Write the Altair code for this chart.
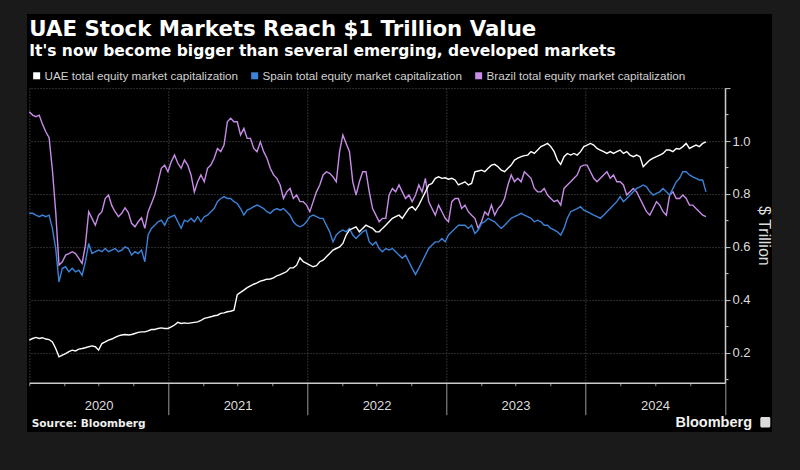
import altair as alt
import pandas as pd

uae_values = [
    0.248, 0.254, 0.258, 0.254, 0.257, 0.252, 0.250, 0.241, 0.216, 0.185,
    0.191, 0.197, 0.204, 0.210, 0.207, 0.214, 0.216, 0.219, 0.223, 0.226,
    0.223, 0.210, 0.235, 0.241, 0.248, 0.252, 0.258, 0.264, 0.267, 0.269,
    0.267, 0.269, 0.273, 0.277, 0.279, 0.279, 0.283, 0.288, 0.288, 0.292,
    0.294, 0.292,
    0.292, 0.298, 0.305, 0.315, 0.311, 0.313, 0.311, 0.313, 0.315, 0.317,
    0.322, 0.330, 0.333, 0.336, 0.340, 0.342, 0.349, 0.351, 0.355, 0.357,
    0.361, 0.420, 0.428, 0.437, 0.446, 0.453, 0.459, 0.464, 0.471, 0.474,
    0.478, 0.479, 0.483, 0.491, 0.495, 0.501, 0.507, 0.521, 0.521, 0.531,
    0.559, 0.544,
    0.538, 0.531, 0.525, 0.529, 0.544, 0.550, 0.563, 0.575, 0.588, 0.594,
    0.600, 0.613, 0.645, 0.664, 0.670, 0.676, 0.657, 0.670, 0.682, 0.676,
    0.670, 0.657, 0.657, 0.670, 0.682, 0.695, 0.708, 0.714, 0.720, 0.708,
    0.727, 0.745, 0.752, 0.739, 0.758, 0.783, 0.808, 0.834, 0.840, 0.859,
    0.865, 0.859,
    0.861, 0.856, 0.859, 0.853, 0.834, 0.840, 0.846, 0.834, 0.840, 0.884,
    0.887, 0.890, 0.884, 0.897, 0.909, 0.912, 0.903, 0.890, 0.884, 0.897,
    0.909, 0.928, 0.935, 0.941, 0.945, 0.947, 0.960, 0.953, 0.966, 0.979,
    0.985, 0.991, 0.979, 0.960, 0.928, 0.912, 0.941, 0.953, 0.947, 0.953,
    0.947, 0.960,
    0.979, 0.985, 0.991, 0.985, 0.972, 0.966, 0.960, 0.953, 0.960, 0.953,
    0.960, 0.966, 0.953, 0.960, 0.947, 0.941, 0.947, 0.941, 0.903, 0.916,
    0.928, 0.935, 0.941, 0.947, 0.953, 0.966, 0.966, 0.960, 0.972, 0.970,
    0.979, 0.991, 0.972, 0.979, 0.985, 0.979, 0.991, 0.997,
]

spain_values = [
    0.727, 0.727, 0.720, 0.714, 0.720, 0.714, 0.720, 0.670, 0.594, 0.468,
    0.519, 0.525, 0.506, 0.519, 0.506, 0.512, 0.493, 0.544, 0.613, 0.575,
    0.582, 0.588, 0.582, 0.594, 0.582, 0.588, 0.594, 0.582, 0.588, 0.600,
    0.594, 0.569, 0.582, 0.575, 0.588, 0.544, 0.645, 0.670, 0.682, 0.695,
    0.701, 0.682,
    0.708, 0.714, 0.720, 0.695, 0.670, 0.701, 0.695, 0.708, 0.695, 0.714,
    0.695, 0.714, 0.720, 0.733, 0.745, 0.771, 0.783, 0.790, 0.783, 0.783,
    0.771, 0.764, 0.745, 0.720, 0.739, 0.745, 0.752, 0.758, 0.752, 0.745,
    0.733, 0.727, 0.739, 0.745, 0.739, 0.745, 0.733, 0.720, 0.695, 0.682,
    0.676, 0.682,
    0.695, 0.714, 0.720, 0.714, 0.708, 0.708, 0.682, 0.657, 0.619, 0.645,
    0.657, 0.664, 0.657, 0.670, 0.645, 0.632, 0.645, 0.657, 0.664, 0.619,
    0.607, 0.619, 0.594, 0.582, 0.594, 0.588, 0.594, 0.582, 0.569, 0.557,
    0.569, 0.544, 0.519, 0.496, 0.519, 0.544, 0.569, 0.594, 0.607, 0.619,
    0.619, 0.632,
    0.619, 0.645, 0.657, 0.670, 0.682, 0.682, 0.682, 0.670, 0.682, 0.651,
    0.664, 0.689, 0.695, 0.708, 0.701, 0.695, 0.682, 0.670, 0.682, 0.695,
    0.708, 0.714, 0.720, 0.727, 0.720, 0.714, 0.708, 0.695, 0.701, 0.695,
    0.682, 0.682, 0.670, 0.664, 0.657, 0.645, 0.670, 0.708, 0.733, 0.739,
    0.745, 0.752,
    0.739, 0.733, 0.727, 0.720, 0.714, 0.708, 0.720, 0.733, 0.745, 0.758,
    0.771, 0.790, 0.771, 0.783, 0.796, 0.808, 0.821, 0.827, 0.834, 0.827,
    0.808, 0.796, 0.802, 0.808, 0.821, 0.808, 0.796, 0.821, 0.846, 0.859,
    0.884, 0.884, 0.872, 0.865, 0.859, 0.853, 0.853, 0.808,
]

brazil_values = [
    1.111, 1.098, 1.092, 1.098, 1.063, 1.035, 1.013, 0.890, 0.733, 0.531,
    0.544, 0.569, 0.575, 0.582, 0.575, 0.557, 0.538, 0.607, 0.733, 0.708,
    0.682, 0.720, 0.733, 0.783, 0.796, 0.756, 0.733, 0.714, 0.727, 0.748,
    0.730, 0.689, 0.676, 0.695, 0.710, 0.670, 0.733, 0.764, 0.796, 0.846,
    0.897, 0.909,
    0.884, 0.922, 0.947, 0.916, 0.897, 0.928, 0.909, 0.872, 0.808, 0.846,
    0.872, 0.846, 0.897, 0.909, 0.935, 0.972, 0.960, 0.985, 1.073, 1.086,
    1.073, 1.073, 1.023, 1.048, 1.010, 1.010, 0.972, 0.960, 0.997, 0.960,
    0.935, 0.897, 0.872, 0.859, 0.834, 0.783, 0.808, 0.821, 0.783, 0.796,
    0.771, 0.771,
    0.758, 0.733, 0.771, 0.808, 0.834, 0.872, 0.884, 0.878, 0.865, 0.846,
    0.960, 1.023, 0.991, 0.960, 0.846, 0.796, 0.846, 0.884, 0.884, 0.808,
    0.745, 0.720, 0.695, 0.708, 0.708, 0.796, 0.821, 0.808, 0.834, 0.808,
    0.783, 0.796, 0.771, 0.796, 0.834, 0.808, 0.859, 0.771, 0.745, 0.720,
    0.758, 0.733,
    0.708, 0.695, 0.771, 0.783, 0.783, 0.745, 0.758, 0.733, 0.720, 0.708,
    0.670, 0.695, 0.733, 0.720, 0.758, 0.720, 0.745, 0.758, 0.783, 0.834,
    0.872, 0.846, 0.859, 0.846, 0.884, 0.872, 0.859, 0.821, 0.808, 0.808,
    0.821, 0.796, 0.783, 0.771, 0.777, 0.758, 0.821, 0.834, 0.846, 0.859,
    0.872, 0.903,
    0.909, 0.909, 0.884, 0.859, 0.846, 0.859, 0.872, 0.884, 0.859, 0.872,
    0.846, 0.846, 0.834, 0.796, 0.808, 0.821, 0.808, 0.783, 0.758, 0.733,
    0.720, 0.745, 0.771, 0.758, 0.733, 0.720, 0.796, 0.808, 0.783, 0.783,
    0.796, 0.783, 0.758, 0.758, 0.745, 0.733, 0.720, 0.714,
]

series_labels = [
    "UAE total equity market capitalization",
    "Spain total equity market capitalization",
    "Brazil total equity market capitalization",
]
series_colors = ["#ffffff", "#3b82d9", "#c78ce8"]

title_text = "UAE Stock Markets Reach $1 Trillion Value"
subtitle_text = "It's now become bigger than several emerging, developed markets"
source_text = "Source:  Bloomberg"
brand_text = "Bloomberg"

first_date = "2020-01-01"
last_date = "2024-11-12"

# ---- table ----
n = len(uae_values)
dates = list(pd.date_range(first_date, last_date, periods=n).strftime("%Y-%m-%dT%H:%M:%SZ"))
parts = []
for label, vals in [(series_labels[2], brazil_values),
                    (series_labels[1], spain_values),
                    (series_labels[0], uae_values)]:
    parts.append(pd.DataFrame({"date": dates, "value": vals, "series": label}))
df = pd.concat(parts, ignore_index=True)

quarter_starts = pd.date_range("2020-01-01", "2025-01-01", freq="QS")
x_ticks = [int(ts.value // 1_000_000) for ts in quarter_starts]
x_domain = [x_ticks[0], x_ticks[-1]]
y_ticks = [round(0.1 * i, 1) for i in range(1, 13)]

W, H = 695.7, 294.6
GRID = "#5c5c5c"
TXT = "#dddddd"
FRAME = "#1a1a1a"

x_axis = alt.Axis(
    values=x_ticks, orient="bottom", title=None,
    domainColor="#cccccc", domainWidth=1.5,
    tickColor="#9a9a9a", tickWidth=1,
    tickSize={"condition": {"test": "utcmonth(datum.value) == 0 && utcyear(datum.value) > 2020", "value": 32}, "value": 3},
    grid=True, gridColor=GRID, gridDash=[1, 2], gridWidth=1,
    gridOpacity={"condition": {"test": "utcmonth(datum.value) == 0", "value": 1}, "value": 0},
    labelExpr="utcmonth(datum.value) == 6 ? utcFormat(datum.value, '%Y') : ''",
    labelFont="Liberation Sans", labelFontSize=13, labelColor=TXT,
    labelPadding=14, labelOverlap=False, labelFlush=False, labelBound=False,
)

y_axis = alt.Axis(
    values=y_ticks, orient="right",
    domainColor="#cccccc", domainWidth=1.5,
    tickColor="#cccccc", tickWidth=1,
    tickSize={"condition": {"test": "round(datum.value * 10) % 2 == 1", "value": 3}, "value": 5},
    grid=True, gridColor=GRID, gridDash=[1, 2], gridWidth=1,
    gridOpacity={"condition": {"test": "round(datum.value * 10) % 2 == 1", "value": 0}, "value": 1},
    labelExpr="(round(datum.value * 10) % 2 == 0 && datum.value < 1.15) ? format(datum.value, '.1f') : ''",
    labelFont="Liberation Sans", labelFontSize=13, labelColor=TXT, labelPadding=2,
    labelOverlap=False, labelFlush=False,
    title="$ Trillion", titleFont="Liberation Sans", titleFontSize=16, titleFontWeight="normal",
    titleColor=TXT, titleAngle=90, titlePadding=5,
)

legend = alt.Legend(
    orient="none", legendX=1.5, legendY=-18.5, direction="horizontal", title=None,
    symbolType="square", symbolSize=9, symbolStrokeWidth=4,
    labelFont="Liberation Sans", labelFontSize=11.7, labelColor="#d0d0d0",
    labelOffset=2, columnPadding=6, padding=0, labelLimit=400,
)

lines = alt.Chart(df).mark_line(strokeWidth=1.4).encode(
    x=alt.X("date:T", scale=alt.Scale(type="utc", domain=x_domain), axis=x_axis),
    y=alt.Y("value:Q", scale=alt.Scale(domain=[0.087, 1.2], nice=False, zero=False), axis=y_axis),
    color=alt.Color("series:N", scale=alt.Scale(domain=series_labels, range=series_colors), legend=legend),
)

one = pd.DataFrame({"k": [0]})

def frame_rect(x1, x2, y1, y2):
    return alt.Chart(one).mark_rect(color=FRAME).encode(
        x=alt.value(x1), x2=alt.value(x2), y=alt.value(y1), y2=alt.value(y2))

frames = [
    frame_rect(-29.3, 770.7, -88.1, -74.1),
    frame_rect(-29.3, 770.7, 343.9, 381.9),
    frame_rect(-29.3, -2.3, -88.1, 381.9),
    frame_rect(742.7, 770.7, -88.1, 381.9),
]

title = alt.Chart(one).mark_text(
    text=title_text, align="left", baseline="alphabetic",
    font="DejaVu Sans", fontWeight="bold", fontSize=21.3, color="#ffffff",
).encode(x=alt.value(0), y=alt.value(-52.0))

subtitle = alt.Chart(one).mark_text(
    text=subtitle_text, align="left", baseline="alphabetic",
    font="DejaVu Sans", fontWeight="bold", fontSize=15.5, color="#ffffff",
).encode(x=alt.value(0), y=alt.value(-32.3))

source = alt.Chart(one).mark_text(
    text=source_text, align="left", baseline="middle",
    font="DejaVu Sans", fontWeight="bold", fontSize=10.6, color="#eeeeee",
).encode(x=alt.value(2.4), y=alt.value(335.9))

brand = alt.Chart(one).mark_text(
    text=brand_text, align="right", baseline="middle",
    font="Liberation Sans", fontWeight="bold", fontSize=14.5, color="#f2f2f2",
).encode(x=alt.value(722.7), y=alt.value(334.6))

brand_icon = alt.Chart(one).mark_rect(color="#dcdcdc", cornerRadius=1.5).encode(
    x=alt.value(731), x2=alt.value(741), y=alt.value(329), y2=alt.value(339.5))

chart = alt.layer(lines, *frames, title, subtitle, source, brand, brand_icon).properties(
    width=W, height=H,
    padding={"left": 29.3, "top": 88.1, "right": 75, "bottom": 87.3},
    autosize=alt.AutoSizeParams(type="none"),
    background="#000000",
).configure_view(stroke=None)

chart.save("out.html", embed_options={"renderer": "svg", "actions": False})
